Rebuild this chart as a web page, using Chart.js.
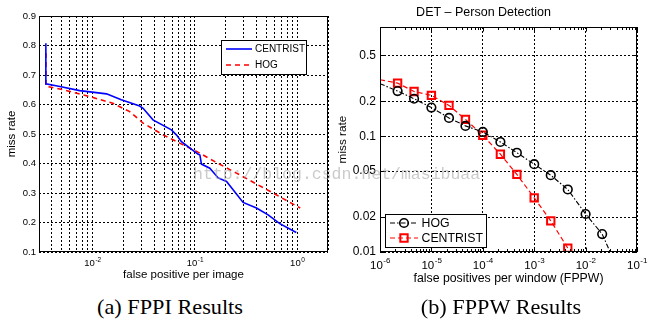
<!DOCTYPE html>
<html>
<head>
<meta charset="utf-8">
<script src="https://cdn.jsdelivr.net/npm/chart.js@4/dist/chart.umd.min.js"></script>
<style>
  body { margin: 0; background: #fff; width: 659px; height: 327px; position: relative; overflow: hidden; font-family: "Liberation Sans", Arial, sans-serif; }
  canvas { position: absolute; top: 0; }
  #fppi { left: 0; }
  #fppw { left: 330px; }
  .caption { position: absolute; top: 297px; width: 200px; text-align: center; font-family: "Liberation Serif", "Times New Roman", serif; font-size: 21px; line-height: 21px; color: #000; transform: scaleX(1.06); }
  .mark { position: absolute; left: 193px; top: 167px; font-family: "Liberation Mono", monospace; font-size: 16.5px; line-height: 16.5px; color: rgba(160,160,160,0.55); white-space: nowrap; pointer-events: none; }
</style>
</head>
<body>
<canvas id="fppi" width="332" height="290"></canvas>
<canvas id="fppw" width="329" height="290"></canvas>
<div class="caption" style="left:70px">(a) FPPI Results</div>
<div class="caption" style="left:401px">(b) FPPW Results</div>
<div class="mark">http://blog.csdn.net/masibuaa</div>
<script>
// (a) miss rate vs false positives per image
var fppiCentristX = [0.0035, 0.0035, 0.0048, 0.0075, 0.0137, 0.0191, 0.0289, 0.0312, 0.039, 0.059, 0.066, 0.074, 0.107, 0.112, 0.116, 0.14, 0.169, 0.204, 0.296, 0.40, 0.52, 0.676, 0.98];
var fppiCentristY = [0.808, 0.670, 0.661, 0.647, 0.636, 0.616, 0.595, 0.587, 0.548, 0.514, 0.497, 0.474, 0.432, 0.429, 0.398, 0.384, 0.351, 0.339, 0.268, 0.249, 0.226, 0.196, 0.166];
var fppiHogX = [0.0035, 0.0035, 0.0052, 0.0094, 0.0158, 0.0231, 0.0312, 0.0489, 0.0711, 0.104, 0.163, 0.255, 0.58, 1.07];
var fppiHogY = [0.775, 0.662, 0.650, 0.627, 0.604, 0.576, 0.537, 0.497, 0.469, 0.441, 0.403, 0.3675, 0.30, 0.249];
var fppiYTicks = [0.1, 0.2, 0.3, 0.4, 0.5, 0.6, 0.7, 0.8, 0.9];
var fppiXLabels = [0.01, 0.1, 1];

// (b) DET curve, miss rate vs false positives per window
var fppwHogX = [1e-6, 2.2e-6, 4.6e-6, 1e-5, 2.2e-5, 4.6e-5, 1e-4, 2.2e-4, 4.6e-4, 1e-3, 2.1e-3, 4.5e-3, 1e-2, 2.1e-2, 3.0e-2];
var fppwHogY = [0.285, 0.246, 0.211, 0.177, 0.144, 0.123, 0.109, 0.0893, 0.0721, 0.0574, 0.0461, 0.0347, 0.0213, 0.0143, 0.01];
var fppwCentristX = [1e-6, 2.2e-6, 4.6e-6, 1e-5, 2.2e-5, 4.6e-5, 1e-4, 2.2e-4, 4.6e-4, 1e-3, 2.1e-3, 4.5e-3];
var fppwCentristY = [0.308, 0.288, 0.244, 0.226, 0.185, 0.140, 0.102, 0.070, 0.0468, 0.0294, 0.0186, 0.0108];
var fppwYTicks = [0.01, 0.02, 0.05, 0.1, 0.2, 0.5];
var fppwXLabels = [1e-6, 1e-5, 1e-4, 1e-3, 1e-2, 1e-1];

var FONT = '"Liberation Sans", Arial, sans-serif';

function pairs(xs, ys) {
    return xs.map(function (x, i) { return { x: x, y: ys[i] }; });
}

function isDecade(v) {
    var e = Math.log10(v);
    return Math.abs(e - Math.round(e)) < 1e-6;
}

// 1..9 x 10^e between lo and hi, used for log grid lines
function logGrid(lo, hi) {
    var out = [];
    for (var e = Math.floor(Math.log10(lo)); e <= Math.ceil(Math.log10(hi)); e++) {
        for (var m = 1; m < 10; m++) {
            var v = Number((m * Math.pow(10, e)).toPrecision(3));
            if (v >= lo * 0.9999 && v <= hi * 1.0001) out.push(v);
        }
    }
    return out;
}

// box around the plot, with optional inward tick marks
var axesBox = {
    id: 'axesBox',
    afterDraw: function (chart, args, opts) {
        var ctx = chart.ctx, a = chart.chartArea;
        var l = Math.round(a.left) + 0.5, r = Math.round(a.right) - 0.5;
        var t = Math.round(a.top) + 0.5, b = Math.round(a.bottom) - 0.5;
        ctx.save();
        ctx.strokeStyle = '#000';
        ctx.lineWidth = 1;
        ctx.setLineDash([]);
        ctx.strokeRect(l, t, r - l, b - t);
        if (opts.inwardTicks) {
            ctx.beginPath();
            chart.scales.x.ticks.forEach(function (tk) {
                var px = Math.round(chart.scales.x.getPixelForValue(tk.value)) + 0.5;
                var len = isDecade(tk.value) ? 4 : 2.5;
                ctx.moveTo(px, b); ctx.lineTo(px, b - len);
                ctx.moveTo(px, t); ctx.lineTo(px, t + len);
            });
            chart.scales.y.ticks.forEach(function (tk) {
                var py = Math.round(chart.scales.y.getPixelForValue(tk.value)) + 0.5;
                ctx.moveTo(l, py); ctx.lineTo(l + 4, py);
                ctx.moveTo(r, py); ctx.lineTo(r - 4, py);
            });
            ctx.stroke();
        }
        ctx.restore();
    }
};

// "10" with a raised exponent under each decade of the x axis
var powerTicks = {
    id: 'powerTicks',
    afterDraw: function (chart, args, o) {
        if (!o.values) return;
        var ctx = chart.ctx, xs = chart.scales.x;
        var base = chart.chartArea.bottom + o.offset;
        ctx.save();
        ctx.fillStyle = '#000';
        ctx.textBaseline = 'alphabetic';
        o.values.forEach(function (v) {
            var px = xs.getPixelForValue(v);
            var exp = String(Math.round(Math.log10(v)));
            ctx.font = o.size + 'px ' + FONT;
            var wb = ctx.measureText('10').width;
            ctx.font = o.expSize + 'px ' + FONT;
            var we = ctx.measureText(exp).width;
            var x0 = px - (wb + we) / 2;
            ctx.font = o.size + 'px ' + FONT;
            ctx.fillText('10', x0, base);
            ctx.font = o.expSize + 'px ' + FONT;
            ctx.fillText(exp, x0 + wb + 0.5, base - o.raise);
        });
        ctx.restore();
    }
};

// boxed legend drawn inside the axes
var boxLegend = {
    id: 'boxLegend',
    afterDraw: function (chart, args, o) {
        if (!o.box) return;
        var ctx = chart.ctx, bx = o.box;
        ctx.save();
        ctx.fillStyle = '#fff';
        ctx.fillRect(bx[0], bx[1], bx[2], bx[3]);
        ctx.strokeStyle = '#000';
        ctx.lineWidth = 1;
        ctx.strokeRect(bx[0] + 0.5, bx[1] + 0.5, bx[2], bx[3]);
        chart.data.datasets.forEach(function (ds, i) {
            var y = o.rows[i];
            ctx.strokeStyle = ds.borderColor;
            ctx.lineWidth = ds.borderWidth;
            ctx.setLineDash(ds.borderDash || []);
            ctx.beginPath();
            ctx.moveTo(o.lineFrom, y);
            ctx.lineTo(o.lineTo, y);
            ctx.stroke();
            ctx.setLineDash([]);
            if (o.markers && o.markers[i]) {
                ctx.fillStyle = 'rgba(0,0,0,0)';
                ctx.lineWidth = ds.pointBorderWidth;
                Chart.helpers.drawPoint(ctx, {
                    pointStyle: ds.pointStyle, rotation: 0,
                    radius: o.markers[i], borderWidth: ds.pointBorderWidth
                }, (o.lineFrom + o.lineTo) / 2, y);
            }
            ctx.fillStyle = '#000';
            ctx.font = o.size + 'px ' + FONT;
            ctx.textBaseline = 'middle';
            ctx.fillText(ds.label, o.textX, y + 0.5);
        });
        ctx.restore();
    }
};

var fppiGrid = logGrid(0.003, 2);

new Chart(document.getElementById('fppi'), {
    type: 'line',
    data: {
        datasets: [{
            label: 'CENTRIST',
            data: pairs(fppiCentristX, fppiCentristY),
            borderColor: '#0000ff',
            borderWidth: 1.6,
            pointRadius: 0,
            tension: 0
        }, {
            label: 'HOG',
            data: pairs(fppiHogX, fppiHogY),
            borderColor: '#ff0000',
            borderWidth: 1.6,
            borderDash: [5, 4],
            pointRadius: 0,
            tension: 0
        }]
    },
    options: {
        responsive: false,
        animation: false,
        events: [],
        layout: { padding: { top: 16, right: 4, left: 0, bottom: 0 } },
        scales: {
            x: {
                type: 'logarithmic',
                min: 0.003,
                max: 2,
                afterBuildTicks: function (s) { s.ticks = fppiGrid.map(function (v) { return { value: v }; }); },
                afterFit: function (s) { s.height = 38; },
                ticks: { display: false, autoSkip: false },
                grid: { color: '#000', lineWidth: 1, drawTicks: false },
                border: { display: false, dash: [2, 2] },
                title: { display: true, text: 'false positive per image', color: '#000', font: { family: FONT, size: 11.5 }, padding: { top: 0, bottom: 8 } }
            },
            y: {
                min: 0.1,
                max: 0.9,
                afterBuildTicks: function (s) { s.ticks = fppiYTicks.map(function (v) { return { value: v }; }); },
                afterFit: function (s) { s.width = 39; },
                ticks: { color: '#000', padding: 3, font: { family: FONT, size: 9.5 }, callback: function (v) { return v.toFixed(1); } },
                grid: { color: '#000', lineWidth: 1, drawTicks: false },
                border: { display: false, dash: [2, 2] },
                title: { display: true, text: 'miss rate', color: '#000', font: { family: FONT, size: 11.5 }, padding: { top: 5, bottom: 0 } }
            }
        },
        plugins: {
            legend: { display: false },
            tooltip: { enabled: false },
            powerTicks: { values: fppiXLabels, offset: 14, raise: 4, size: 9.5, expSize: 6.5 },
            boxLegend: { box: [221, 40, 85, 34], rows: [49, 65], lineFrom: 226, lineTo: 252, textX: 255, size: 10 },
            axesBox: { inwardTicks: false }
        }
    },
    plugins: [axesBox, boxLegend, powerTicks]
});

var fppwGrid = logGrid(1e-6, 1e-1);

new Chart(document.getElementById('fppw'), {
    type: 'line',
    data: {
        datasets: [{
            label: 'HOG',
            data: pairs(fppwHogX, fppwHogY),
            borderColor: '#000',
            borderWidth: 1.1,
            borderDash: [5, 2, 1.5, 2],
            pointStyle: 'circle',
            pointRadius: fppwHogX.map(function (x, i) { return i === 0 || i === fppwHogX.length - 1 ? 0 : 4.3; }),
            pointBorderWidth: 1.6,
            pointBorderColor: '#000',
            pointBackgroundColor: 'rgba(0,0,0,0)',
            tension: 0
        }, {
            label: 'CENTRIST',
            data: pairs(fppwCentristX, fppwCentristY),
            borderColor: '#ff0000',
            borderWidth: 1.2,
            borderDash: [5, 3],
            pointStyle: 'rect',
            pointRadius: fppwCentristX.map(function (x, i) { return i === 0 ? 0 : 5.2; }),
            pointBorderWidth: 2,
            pointBorderColor: '#ff0000',
            pointBackgroundColor: 'rgba(0,0,0,0)',
            tension: 0
        }]
    },
    options: {
        responsive: false,
        animation: false,
        events: [],
        layout: { padding: { top: 0, right: 22, left: 0, bottom: 0 } },
        scales: {
            x: {
                type: 'logarithmic',
                min: 1e-6,
                max: 1e-1,
                afterBuildTicks: function (s) { s.ticks = fppwGrid.map(function (v) { return { value: v }; }); },
                afterFit: function (s) { s.height = 38; },
                ticks: { display: false, autoSkip: false },
                grid: {
                    lineWidth: 1, drawTicks: false,
                    color: function (c) { return c.tick && isDecade(c.tick.value) ? '#000' : 'rgba(0,0,0,0)'; }
                },
                border: { display: false, dash: [2, 2] },
                title: { display: true, text: 'false positives per window (FPPW)', color: '#000', font: { family: FONT, size: 12.3 }, padding: { top: 0, bottom: 4 } }
            },
            y: {
                type: 'logarithmic',
                min: 0.01,
                max: 0.88,
                afterBuildTicks: function (s) { s.ticks = fppwYTicks.map(function (v) { return { value: v }; }); },
                afterFit: function (s) { s.width = 50; },
                ticks: { color: '#000', padding: 4, font: { family: FONT, size: 12 }, callback: function (v) { return String(v); } },
                grid: { color: '#000', lineWidth: 1, drawTicks: false },
                border: { display: false, dash: [2, 2] },
                title: { display: true, text: 'miss rate', color: '#000', font: { family: FONT, size: 11.8 }, padding: { top: 6, bottom: 0 } }
            }
        },
        plugins: {
            legend: { display: false },
            tooltip: { enabled: false },
            title: { display: true, text: 'DET \u2013 Person Detection', color: '#000', font: { family: FONT, size: 12.5, weight: 'normal' }, padding: { top: 4.8, bottom: 7.2 } },
            powerTicks: { values: fppwXLabels, offset: 17, raise: 6.5, size: 11.5, expSize: 8 },
            boxLegend: { box: [55, 214, 101, 33], rows: [223, 238], lineFrom: 60, lineTo: 88, textX: 91.5, size: 12.3, markers: [4.3, 5.2] },
            axesBox: { inwardTicks: true }
        }
    },
    plugins: [axesBox, boxLegend, powerTicks]
});
</script>
</body>
</html>
